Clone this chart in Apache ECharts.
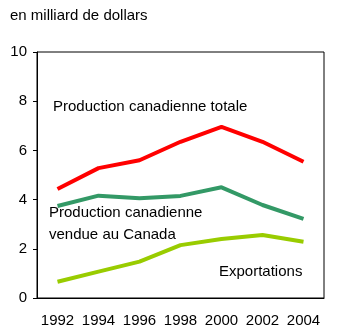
<!DOCTYPE html>
<html>
<head>
<meta charset="utf-8">
<script src="https://cdn.jsdelivr.net/npm/echarts@6/dist/echarts.min.js"></script>
<style>
  html, body { margin: 0; padding: 0; background: #fff; }
  #chart { width: 345px; height: 334px; }
</style>
</head>
<body>
<div id="chart"></div>
<script>
var years = ['1992', '1994', '1996', '1998', '2000', '2002', '2004'];
var totale = [4.43, 5.28, 5.6, 6.35, 6.96, 6.35, 5.54];
var vendueCanada = [3.74, 4.16, 4.05, 4.15, 4.5, 3.78, 3.22];
var exportations = [0.66, 1.07, 1.48, 2.15, 2.4, 2.56, 2.29];

var dom = document.getElementById("chart");
var myChart = echarts.init(dom);
var font = 'Liberation Sans, Arial, sans-serif';

var option = {
    animation: false,
    backgroundColor: '#fff',
    textStyle: { fontFamily: font },
    grid: {
        left: 37, right: 21, top: 52, bottom: 36,
        show: true, borderColor: '#000', borderWidth: 1
    },
    xAxis: {
        type: 'category',
        data: years,
        boundaryGap: true,
        axisLine: { lineStyle: { color: '#000', width: 1 } },
        axisTick: { inside: true, length: 4, interval: 0, lineStyle: { color: '#000' } },
        axisLabel: { color: '#000', fontSize: 15, margin: 15, interval: 0, hideOverlap: false, fontFamily: font },
        splitLine: { show: false }
    },
    yAxis: {
        type: 'value',
        min: 0, max: 10, interval: 2,
        axisLine: { show: true, lineStyle: { color: '#000', width: 1 } },
        axisTick: { show: true, length: 4, lineStyle: { color: '#000' } },
        axisLabel: { color: '#000', fontSize: 15, margin: 10, fontFamily: font },
        splitLine: { show: false }
    },
    graphic: [
        { type: 'text', left: 10, top: 8, style: { text: 'en milliard de dollars', fill: '#000', font: '15px ' + font } },
        { type: 'text', left: 53, top: 99, style: { text: 'Production canadienne totale', fill: '#000', font: '15px ' + font } },
        { type: 'text', left: 49, top: 202, style: { text: 'Production canadienne\nvendue au Canada', fill: '#000', font: '15px ' + font, lineHeight: 22 } },
        { type: 'text', left: 219, top: 264, style: { text: 'Exportations', fill: '#000', font: '15px ' + font } }
    ],
    series: [
        { name: 'Production canadienne totale', type: 'line', data: totale, symbol: 'none',
          lineStyle: { color: '#ff0000', width: 4 } },
        { name: 'Production canadienne vendue au Canada', type: 'line', data: vendueCanada, symbol: 'none',
          lineStyle: { color: '#339966', width: 4 } },
        { name: 'Exportations', type: 'line', data: exportations, symbol: 'none',
          lineStyle: { color: '#99cc00', width: 4 } }
    ]
};
myChart.setOption(option);
</script>
</body>
</html>
